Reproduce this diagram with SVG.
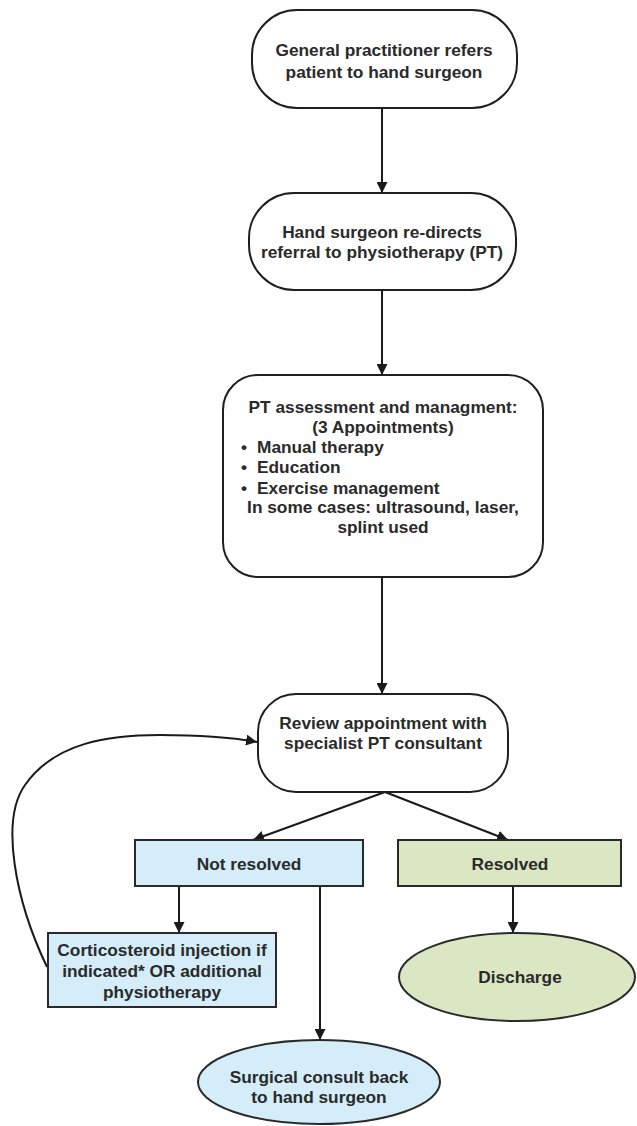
<svg xmlns="http://www.w3.org/2000/svg" width="637" height="1126" viewBox="0 0 637 1126">
<defs>
<marker id="ah" markerUnits="userSpaceOnUse" markerWidth="12" markerHeight="11" refX="11" refY="5.5" orient="auto">
<path d="M0,0 L11,5.5 L0,11 Z" fill="#1a1a1a"/>
</marker>
<style>
.n{fill:#fff;stroke:#1f1f1f;stroke-width:2}
.b{fill:#d4edf9;stroke:#2a2a2a;stroke-width:2}
.g{fill:#dbe6c2;stroke:#2a2a2a;stroke-width:2}
.t{font-family:"Liberation Sans",Arial,sans-serif;font-weight:bold;font-size:17.3px;fill:#2a2a2a;text-anchor:middle}
.s{text-anchor:start}
.c{fill:none;stroke:#1a1a1a;stroke-width:2;marker-end:url(#ah)}
</style>
</defs>
<rect width="637" height="1126" fill="#fff"/>
<g id="connectors">
<line class="c" x1="382" y1="108" x2="382" y2="193"/>
<line class="c" x1="382" y1="290" x2="382" y2="375"/>
<line class="c" x1="382" y1="577" x2="382" y2="694"/>
<line class="c" x1="385" y1="792" x2="253" y2="840"/>
<line class="c" x1="385" y1="792" x2="508" y2="840"/>
<line class="c" x1="179" y1="886" x2="179" y2="933"/>
<line class="c" x1="320" y1="886" x2="320" y2="1040"/>
<line class="c" x1="513" y1="886" x2="513" y2="933"/>
<path class="c" d="M47,967 C15,900 0,820 25,785 C55,742 110,735 160,735 C200,735 235,738 257,742"/>
</g>
<g id="n1">
<rect class="n" x="252" y="10" width="265" height="98" rx="45"/>
<text class="t" x="384" y="56">General practitioner refers</text>
<text class="t" x="384" y="78">patient to hand surgeon</text>
</g>
<g id="n2">
<rect class="n" x="249" y="193" width="267" height="97" rx="45"/>
<text class="t" x="382" y="238">Hand surgeon re-directs</text>
<text class="t" x="382" y="258">referral to physiotherapy (PT)</text>
</g>
<g id="n3">
<rect class="n" x="223" y="375" width="320" height="202" rx="35"/>
<text class="t" x="383" y="413">PT assessment and managment:</text>
<text class="t" x="383" y="433">(3 Appointments)</text>
<text class="t s" x="241" y="453">•</text>
<text class="t s" x="257" y="453">Manual therapy</text>
<text class="t s" x="241" y="473">•</text>
<text class="t s" x="257" y="473">Education</text>
<text class="t s" x="241" y="494">•</text>
<text class="t s" x="257" y="494">Exercise management</text>
<text class="t" x="383" y="513">In some cases: ultrasound, laser,</text>
<text class="t" x="383" y="533">splint used</text>
</g>
<g id="n4">
<rect class="n" x="258" y="694" width="250" height="98" rx="38"/>
<text class="t" x="383" y="729">Review appointment with</text>
<text class="t" x="383" y="749">specialist PT consultant</text>
</g>
<g id="n5">
<rect class="b" x="135" y="840" width="228" height="46"/>
<text class="t" x="249" y="870">Not resolved</text>
</g>
<g id="n6">
<rect class="g" x="398" y="840" width="223" height="46"/>
<text class="t" x="510" y="870">Resolved</text>
</g>
<g id="n7">
<rect class="b" x="48" y="933" width="228" height="74"/>
<text class="t" x="162" y="956">Corticosteroid injection if</text>
<text class="t" x="162" y="977">indicated* OR additional</text>
<text class="t" x="162" y="998">physiotherapy</text>
</g>
<g id="n8">
<ellipse class="g" cx="517" cy="977" rx="118" ry="44"/>
<text class="t" x="520" y="983">Discharge</text>
</g>
<g id="n9">
<ellipse class="b" cx="319" cy="1082" rx="121" ry="42"/>
<text class="t" x="319" y="1083">Surgical consult back</text>
<text class="t" x="319" y="1103">to hand surgeon</text>
</g>
</svg>
